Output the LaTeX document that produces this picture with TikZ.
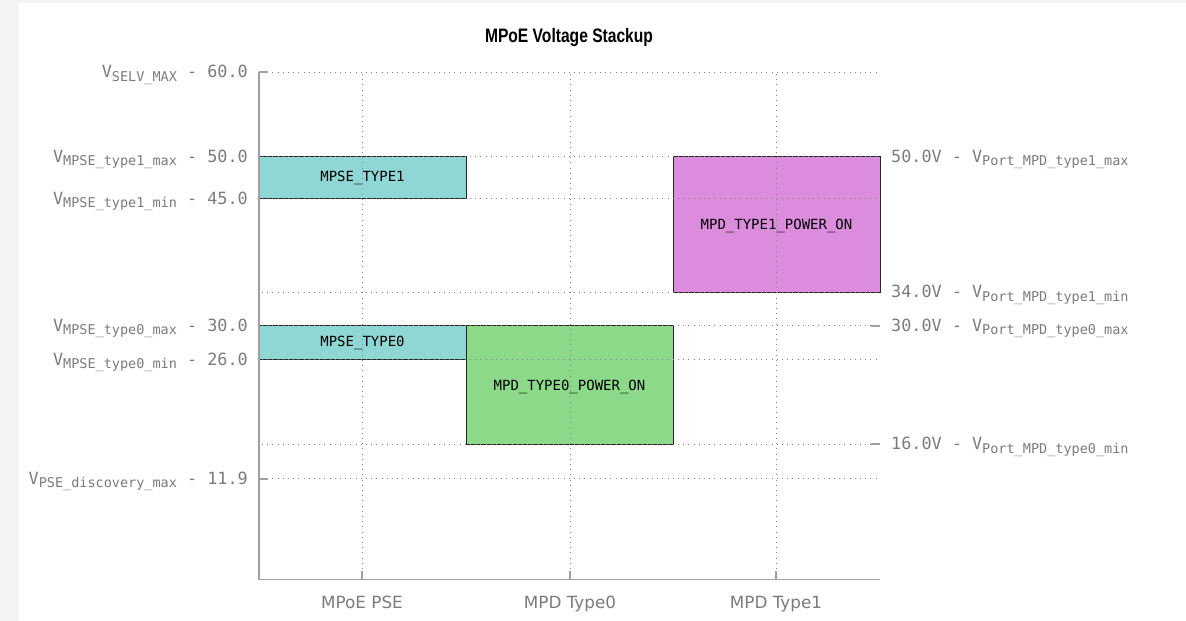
\documentclass[tikz,border=0pt]{standalone}
\usepackage{fontspec}
\setmainfont{Liberation Sans}
\newfontfamily\mono{DejaVu Sans Mono}
\newfontfamily\catfont{DejaVu Sans}
\definecolor{lbl}{HTML}{7C7C7C}
\definecolor{axisgray}{HTML}{A0A0A0}
\definecolor{gridgray}{HTML}{808080}
\definecolor{pseteal}{HTML}{8ED7D5}
\definecolor{mpdgreen}{HTML}{8CD989}
\definecolor{mpdviolet}{HTML}{DB8CDC}
\definecolor{panelbg}{HTML}{F4F4F4}
% voltage label with a subscripted name
\newcommand{\vlab}[1]{V\raisebox{-3.5pt}{\fontsize{13.5}{14}\selectfont #1}}
\tikzset{
  axisline/.style={draw=axisgray, line width=1.6pt},
  gridline/.style={draw=gridgray, line width=0.9pt, dash pattern=on 0.9pt off 4.3pt},
  vbox/.style={draw=black!85, line width=0.9pt, rectangle, inner sep=0pt, minimum width=207pt},
  boxtext/.style={inner sep=0pt, text=black, font=\mono\fontsize{14}{16}\selectfont},
  leftlab/.style={anchor=base east, inner sep=0pt, text=lbl, font=\mono\fontsize{16.8}{18}\selectfont},
  rightlab/.style={anchor=base west, inner sep=0pt, text=lbl, font=\mono\fontsize{16.8}{18}\selectfont},
  catlab/.style={anchor=base, inner sep=0pt, text=lbl, font=\catfont\fontsize{16.8}{18}\selectfont},
}
\begin{document}
\begin{tikzpicture}[x=1pt, y=-1pt]
  % page and panel
  \fill[panelbg] (0,0) rectangle (1186,621);
  \fill[white] (19,3) rectangle (1186,621);
  \useasboundingbox (0,0) rectangle (1186,621);

  % title
  \node[anchor=base, inner sep=0pt] (title) at (569,42)
    {\scalebox{0.8}[1]{\fontsize{19.5}{22}\selectfont\bfseries MPoE Voltage Stackup}};

  % voltage bands
  \node[vbox, fill=pseteal, minimum height=42.3pt] (mpse1) at (362.5,177.75) {};
  \node[vbox, fill=pseteal, minimum height=33.8pt] (mpse0) at (362.5,342.7) {};
  \node[vbox, fill=mpdgreen, minimum height=118.4pt] (mpd0) at (569.5,385.0) {};
  \node[vbox, fill=mpdviolet, minimum height=135.4pt] (mpd1) at (776.5,224.3) {};

  % grid
  \foreach \yy in {72.0,156.6,198.9,292.0,325.8,359.6,444.2,478.9}
    \draw[gridline] (262,\yy) -- (877,\yy);
  \foreach \xx in {362,570,776}
    \draw[gridline] (\xx,74) -- (\xx,577);

  % band names on top of the grid
  \node[boxtext] (t1) at (mpse1) {MPSE\_TYPE1};
  \node[boxtext] (t2) at (mpse0) {MPSE\_TYPE0};
  \node[boxtext] (t3) at ([yshift=-1.5pt]mpd0.center) {MPD\_TYPE0\_POWER\_ON};
  \node[boxtext] (t4) at ([yshift=-1.5pt]mpd1.center) {MPD\_TYPE1\_POWER\_ON};

  % axes and ticks
  \draw[axisline] (259,72) -- (259,579.6) -- (880,579.6);
  \draw[axisline] (259,72.0) -- (268,72.0);
  \draw[axisline] (259,478.9) -- (268,478.9);
  \draw[axisline] (871,325.8) -- (880,325.8);
  \draw[axisline] (871,444.2) -- (880,444.2);
  \foreach \xx in {362,570,776}
    \draw[axisline] (\xx,579.6) -- (\xx,571);

  % left scale
  \node[leftlab] (l60) at (248,77.5) {\vlab{SELV\_MAX} - 60.0};
  \node[leftlab] (l50) at (248,162.1) {\vlab{MPSE\_type1\_max} - 50.0};
  \node[leftlab] (l45) at (248,204.4) {\vlab{MPSE\_type1\_min} - 45.0};
  \node[leftlab] (l30) at (248,331.3) {\vlab{MPSE\_type0\_max} - 30.0};
  \node[leftlab] (l26) at (248,365.1) {\vlab{MPSE\_type0\_min} - 26.0};
  \node[leftlab] (l12) at (248,484.4) {\vlab{PSE\_discovery\_max} - 11.9};

  % right scale
  \node[rightlab] (r50) at (891,162.1) {50.0V - \vlab{Port\_MPD\_type1\_max}};
  \node[rightlab] (r34) at (891,297.5) {34.0V - \vlab{Port\_MPD\_type1\_min}};
  \node[rightlab] (r30) at (891,331.3) {30.0V - \vlab{Port\_MPD\_type0\_max}};
  \node[rightlab] (r16) at (891,449.7) {16.0V - \vlab{Port\_MPD\_type0\_min}};

  % categories
  \node[catlab] (c1) at (362,608) {MPoE PSE};
  \node[catlab] (c2) at (570,608) {MPD Type0};
  \node[catlab] (c3) at (776,608) {MPD Type1};
\end{tikzpicture}
\end{document}
